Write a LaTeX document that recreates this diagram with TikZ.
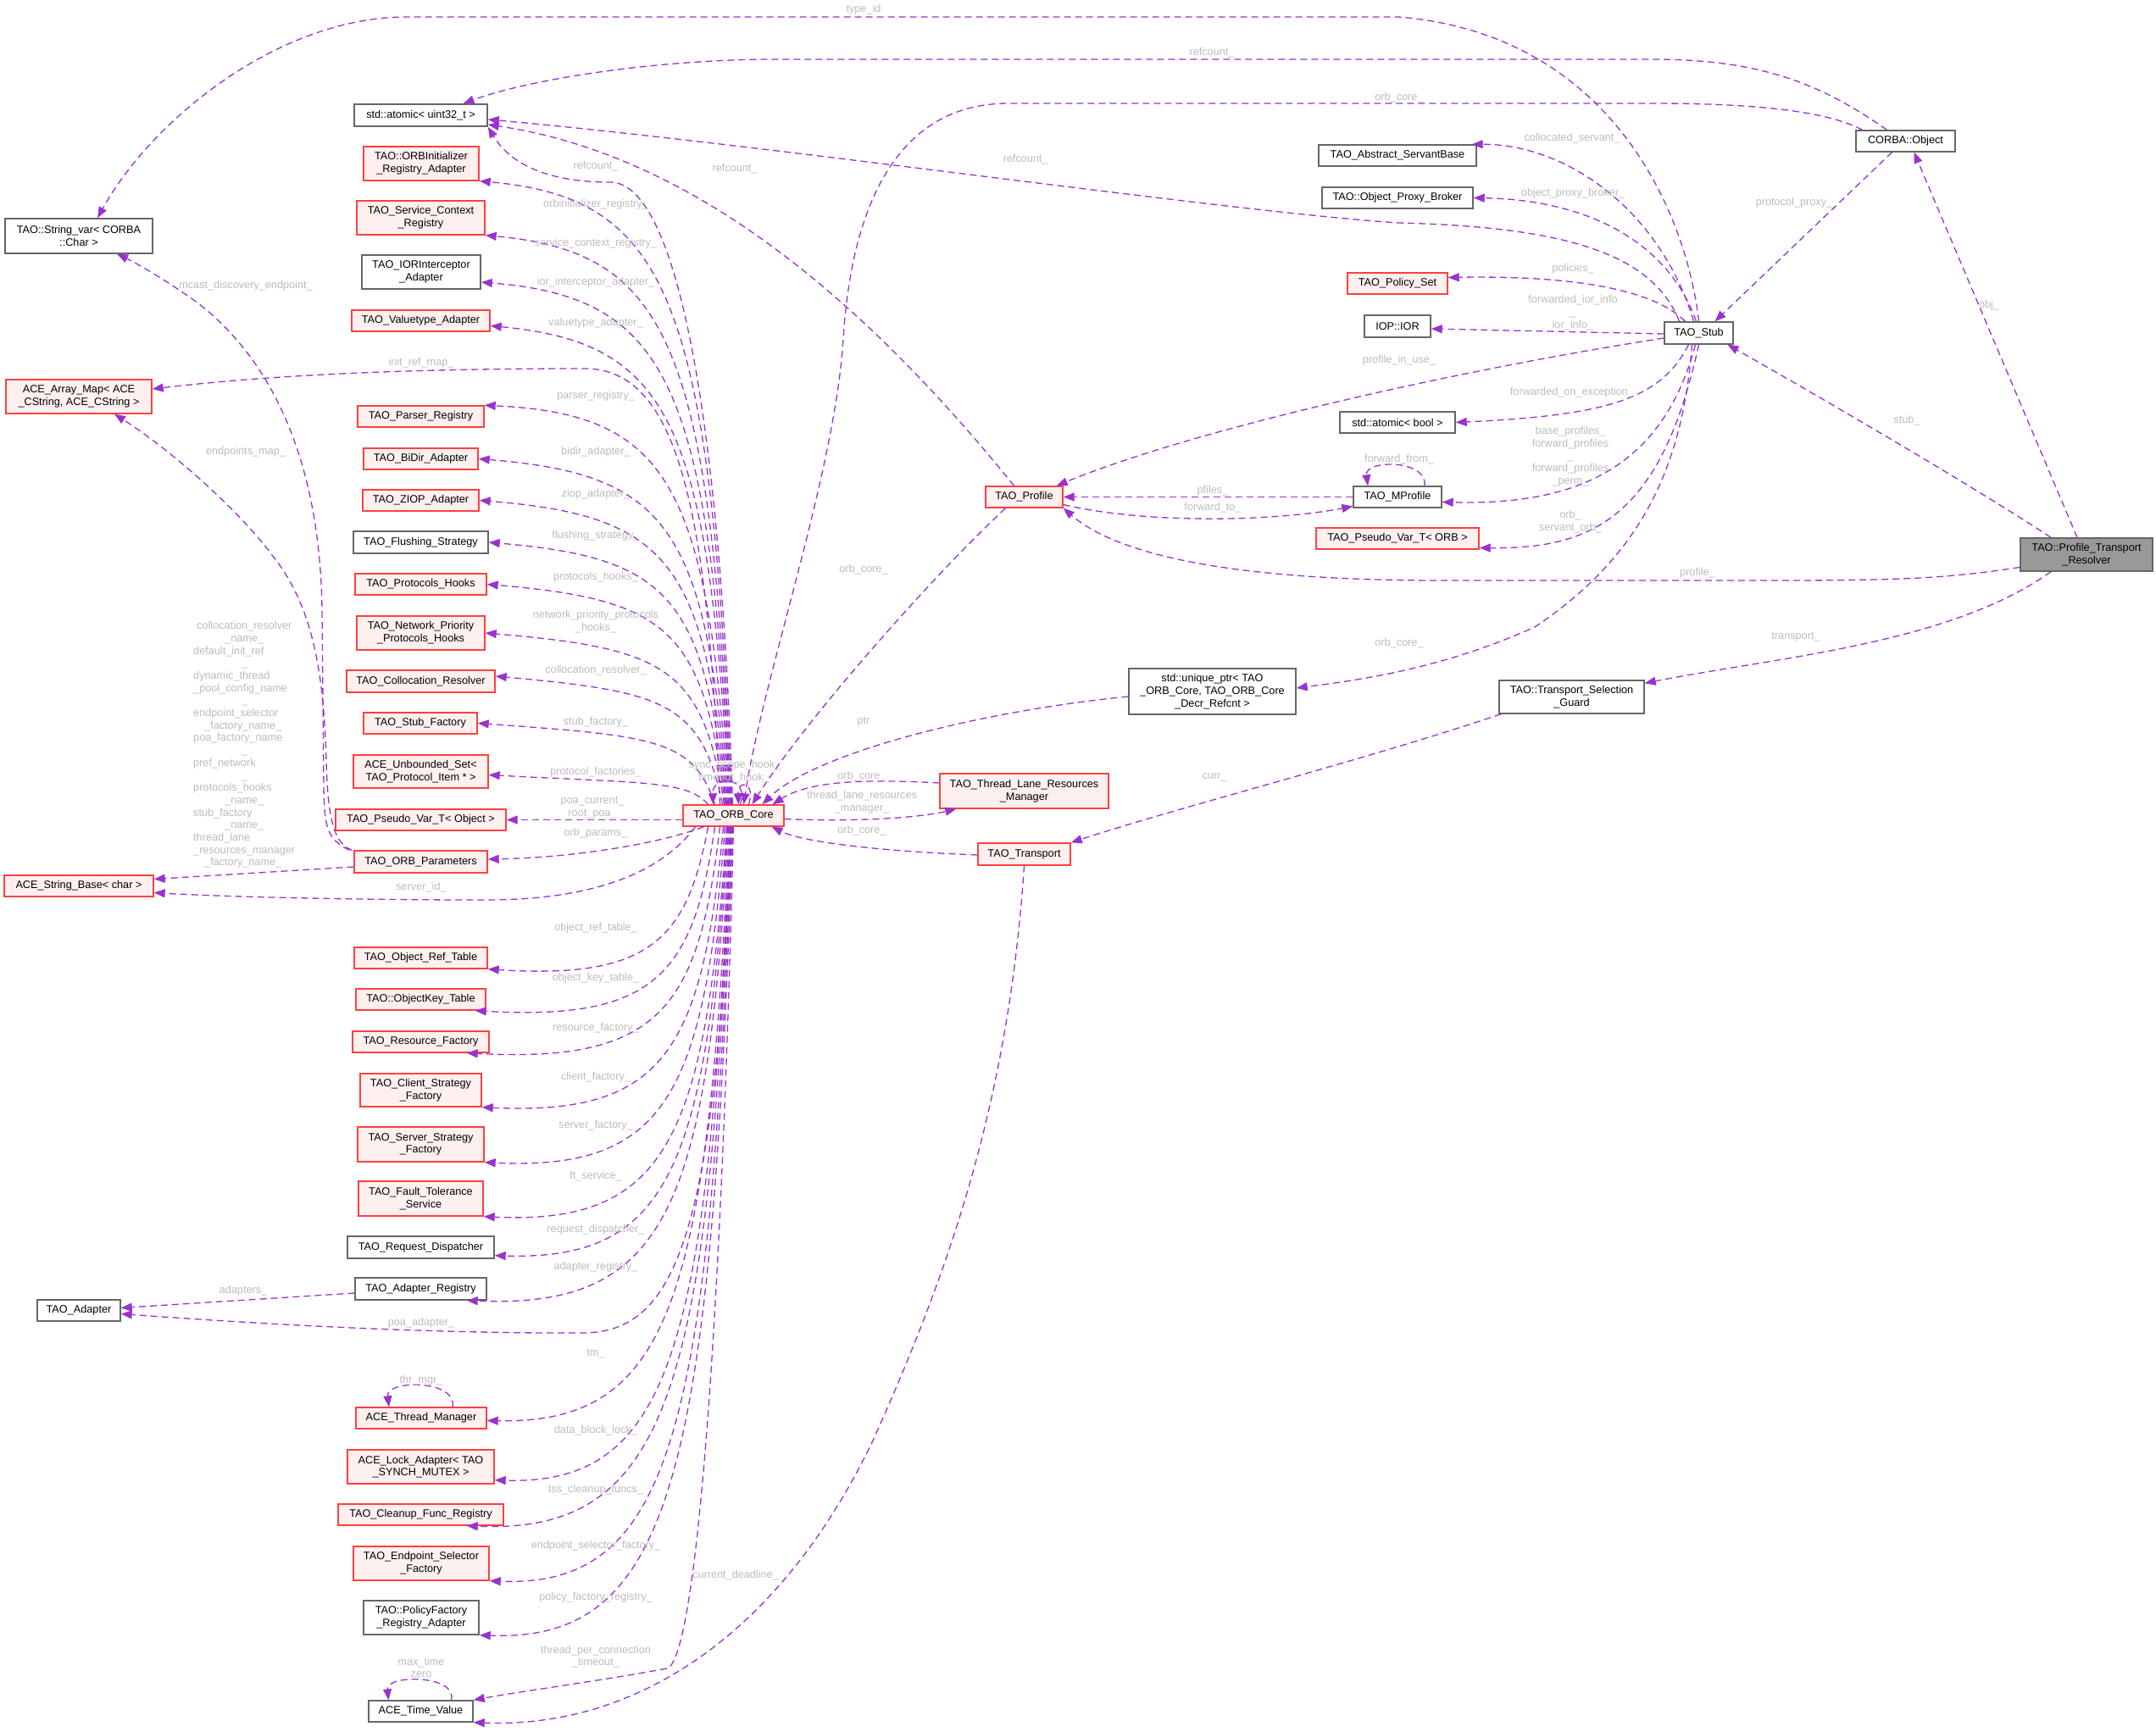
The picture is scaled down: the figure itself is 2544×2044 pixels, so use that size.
\documentclass[tikz,border=0pt]{standalone}
\usepackage{fontspec}
\setmainfont{Liberation Sans}
\usetikzlibrary{arrows.meta,calc}
\definecolor{edgec}{HTML}{9A32CD}
\definecolor{boxred}{HTML}{FF4040}
\definecolor{boxpink}{HTML}{FFF0F0}
\definecolor{boxgray}{HTML}{666666}
\definecolor{maingray}{HTML}{999999}
\definecolor{lblc}{HTML}{BBBBBB}
\newcommand\nf{\fontsize{12.7}{14.7}\selectfont}
\newcommand\fanedge[3]{\draw[conn] let \p1=(#1), \p2=(#2) in (\p1) .. controls (\x1-25pt,{0.8*(\y2)+0.2*(\y1)}) and (\x1-70pt,\y2-#3) .. (\p2);}
\begin{document}
\begin{tikzpicture}[x=1pt,y=-1pt,
  gbox/.style={draw=boxgray,fill=white,line width=1.4pt,inner sep=1pt,align=center,font=\nf},
  rbox/.style={draw=boxred,fill=boxpink,line width=1.4pt,inner sep=1pt,align=center,font=\nf},
  mbox/.style={draw=boxgray,fill=maingray,line width=1.4pt,inner sep=1pt,align=center,font=\nf},
  conn/.style={draw=edgec,line width=1.3pt,dash pattern=on 8pt off 5pt,-{Triangle[length=13pt,width=10pt]}},
  lbl/.style={text=lblc,font=\nf,inner sep=0pt,align=center}]
\useasboundingbox (0,0) rectangle (2544,2044);
% ---------------- nodes ----------------
\node[gbox,minimum width=174pt,minimum height=41pt] (strvar) at (93,278.5) {TAO::String\_var< CORBA\\::Char >};
\node[rbox,minimum width=172pt,minimum height=40pt] (arraymap) at (93,468) {ACE\_Array\_Map< ACE\\\_CString, ACE\_CString >};
\node[rbox,minimum width=176pt,minimum height=25pt] (strbase) at (93,1045.5) {ACE\_String\_Base< char >};
\node[gbox,minimum width=98pt,minimum height=25pt] (adapter) at (93,1546.5) {TAO\_Adapter};
\node[gbox,minimum width=157pt,minimum height=26pt] (atomic) at (496.5,136) {std::atomic< uint32\_t >};
\node[rbox,minimum width=136pt,minimum height=40pt] (orbinit) at (497,193) {TAO::ORBInitializer\\\_Registry\_Adapter};
\node[rbox,minimum width=151pt,minimum height=40pt] (scr) at (496.5,257) {TAO\_Service\_Context\\\_Registry};
\node[gbox,minimum width=140pt,minimum height=40pt] (iori) at (497,321) {TAO\_IORInterceptor\\\_Adapter};
\node[rbox,minimum width=163pt,minimum height=25pt] (valt) at (496.5,378.5) {TAO\_Valuetype\_Adapter};
\node[rbox,minimum width=149pt,minimum height=25pt] (parser) at (496.5,491.5) {TAO\_Parser\_Registry};
\node[rbox,minimum width=135pt,minimum height=25pt] (bidir) at (496.5,541.5) {TAO\_BiDir\_Adapter};
\node[rbox,minimum width=137pt,minimum height=25pt] (ziop) at (496.5,590.5) {TAO\_ZIOP\_Adapter};
\node[gbox,minimum width=159pt,minimum height=26pt] (flush) at (496.5,640) {TAO\_Flushing\_Strategy};
\node[rbox,minimum width=155pt,minimum height=25pt] (phooks) at (496.5,689.5) {TAO\_Protocols\_Hooks};
\node[rbox,minimum width=151pt,minimum height=40pt] (nphooks) at (496.5,747) {TAO\_Network\_Priority\\\_Protocols\_Hooks};
\node[rbox,minimum width=175pt,minimum height=26pt] (collres) at (496.5,804) {TAO\_Collocation\_Resolver};
\node[rbox,minimum width=134pt,minimum height=25pt] (stubf) at (496,853.5) {TAO\_Stub\_Factory};
\node[rbox,minimum width=159pt,minimum height=39pt] (unbset) at (496.5,910.5) {ACE\_Unbounded\_Set<\\TAO\_Protocol\_Item * >};
\node[rbox,minimum width=201pt,minimum height=25pt] (pvobj) at (496.5,967.5) {TAO\_Pseudo\_Var\_T< Object >};
\node[rbox,minimum width=157pt,minimum height=26pt] (orbparams) at (496.5,1017) {TAO\_ORB\_Parameters};
\node[rbox,minimum width=157pt,minimum height=25pt] (ortable) at (496.5,1130.5) {TAO\_Object\_Ref\_Table};
\node[rbox,minimum width=153pt,minimum height=25pt] (oktable) at (496.5,1179.5) {TAO::ObjectKey\_Table};
\node[rbox,minimum width=161pt,minimum height=25pt] (resf) at (496.5,1229.5) {TAO\_Resource\_Factory};
\node[rbox,minimum width=143pt,minimum height=39pt] (clientf) at (496.5,1286.5) {TAO\_Client\_Strategy\\\_Factory};
\node[rbox,minimum width=149pt,minimum height=41pt] (serverf) at (496.5,1350.5) {TAO\_Server\_Strategy\\\_Factory};
\node[rbox,minimum width=147pt,minimum height=41pt] (ftserv) at (496.5,1414.5) {TAO\_Fault\_Tolerance\\\_Service};
\node[gbox,minimum width=173pt,minimum height=26pt] (reqd) at (496.5,1472) {TAO\_Request\_Dispatcher};
\node[gbox,minimum width=155pt,minimum height=26pt] (adreg) at (496.5,1521) {TAO\_Adapter\_Registry};
\node[rbox,minimum width=154pt,minimum height=25pt] (thrmgr) at (497,1673.5) {ACE\_Thread\_Manager};
\node[rbox,minimum width=173pt,minimum height=40pt] (lockad) at (496.5,1731) {ACE\_Lock\_Adapter< TAO\\\_SYNCH\_MUTEX >};
\node[rbox,minimum width=195pt,minimum height=25pt] (cleanup) at (496.5,1787.5) {TAO\_Cleanup\_Func\_Registry};
\node[rbox,minimum width=160pt,minimum height=40pt] (epsel) at (497,1845) {TAO\_Endpoint\_Selector\\\_Factory};
\node[gbox,minimum width=136pt,minimum height=40pt] (polfac) at (497,1909) {TAO::PolicyFactory\\\_Registry\_Adapter};
\node[gbox,minimum width=123pt,minimum height=25pt] (timev) at (496.5,2019.5) {ACE\_Time\_Value};
\node[rbox,minimum width=119pt,minimum height=25pt] (orbcore) at (865.5,962.5) {TAO\_ORB\_Core};
\node[rbox,minimum width=91pt,minimum height=25pt] (profile) at (1208.5,586.5) {TAO\_Profile};
\node[rbox,minimum width=199pt,minimum height=41pt] (tlrm) at (1208.5,933.5) {TAO\_Thread\_Lane\_Resources\\\_Manager};
\node[rbox,minimum width=109pt,minimum height=26pt] (transport) at (1208.5,1008) {TAO\_Transport};
\node[gbox,minimum width=197pt,minimum height=54pt] (uptr) at (1430.5,816) {std::unique\_ptr< TAO\\\_ORB\_Core, TAO\_ORB\_Core\\\_Decr\_Refcnt >};
\node[gbox,minimum width=186pt,minimum height=25pt] (servbase) at (1649,183.5) {TAO\_Abstract\_ServantBase};
\node[gbox,minimum width=178pt,minimum height=25pt] (opb) at (1649,233.5) {TAO::Object\_Proxy\_Broker};
\node[rbox,minimum width=118pt,minimum height=25pt] (polset) at (1649,334.5) {TAO\_Policy\_Set};
\node[gbox,minimum width=78pt,minimum height=26pt] (ior) at (1649,385) {IOP::IOR};
\node[gbox,minimum width=136pt,minimum height=25pt] (atbool) at (1649,498.5) {std::atomic< bool >};
\node[gbox,minimum width=104pt,minimum height=25pt] (mprof) at (1649,586.5) {TAO\_MProfile};
\node[rbox,minimum width=192pt,minimum height=25pt] (pvorb) at (1649,635.5) {TAO\_Pseudo\_Var\_T< ORB >};
\node[gbox,minimum width=81pt,minimum height=26pt] (stub) at (2004.5,393) {TAO\_Stub};
\node[gbox,minimum width=117pt,minimum height=25pt] (corba) at (2248.5,166.5) {CORBA::Object};
\node[mbox,minimum width=156pt,minimum height=39pt] (ptr) at (2462,654.5) {TAO::Profile\_Transport\\\_Resolver};
\node[gbox,minimum width=171pt,minimum height=39pt] (guard) at (1854.5,822.5) {TAO::Transport\_Selection\\\_Guard};
% ---------------- edges: Profile_Transport_Resolver ----------------
\draw[conn] ([xshift=-11pt]ptr.north) -- ([xshift=10pt]corba.south);
\draw[conn] ([xshift=-42pt]ptr.north) .. controls (2330,575) and (2150,470) .. ([xshift=34pt]stub.south);
\draw[conn] ([yshift=-15pt]ptr.west) .. controls (2300,682) and (2250,685) .. (2100,685) -- (1700,685) .. controls (1500,685) and (1330,665) .. (profile.south east);
\draw[conn] ([xshift=-42pt]ptr.south) .. controls (2300,760) and (2100,775) .. ([yshift=-4pt]guard.north east);
% CORBA::Object
\draw[conn] ([xshift=-16pt]corba.south) -- ([xshift=19pt]stub.north);
\draw[conn] ([xshift=-22pt]corba.north) .. controls (2150,100) and (2080,70) .. (1950,70) -- (900,70) .. controls (760,72) and (620,95) .. ([xshift=50pt]atomic.north);
\draw[conn] ([xshift=-51pt]corba.north) .. controls (2150,128) and (2050,122) .. (1950,122) -- (1190,122) .. controls (1060,122) and (1005,240) .. (995,400) .. controls (985,560) and (900,800) .. ([xshift=12pt]orbcore.north);
% TAO_Stub
\draw[conn] (stub.north) .. controls (1990,250) and (1900,40) .. (1650,20) -- (480,20) .. controls (330,20) and (180,140) .. ([xshift=22pt]strvar.north);
\draw[conn] ([xshift=-23pt]stub.north) .. controls (1950,300) and (1850,268) .. (1650,263) .. controls (1450,250) and (900,170) .. ([yshift=-5pt]atomic.east);
\draw[conn] ([xshift=-6pt]stub.north) .. controls (1960,250) and (1850,170) .. ([xshift=-6pt]servbase.north east);
\draw[conn] ([xshift=-3pt]stub.north) .. controls (1970,290) and (1880,236) .. (opb.east);
\draw[conn] ([xshift=-16pt]stub.north) .. controls (1950,340) and (1850,325) .. ([yshift=7pt]polset.east);
\draw[conn] ([yshift=-1pt]stub.west) -- ([yshift=-3pt]ior.east);
\draw[conn] ([yshift=-6pt]stub.west) .. controls (1700,440) and (1400,510) .. ([xshift=-8pt]profile.north east);
\draw[conn] ([xshift=-12pt]stub.south) .. controls (1960,470) and (1900,490) .. (atbool.east);
\draw[conn] ([xshift=-4pt]stub.south) .. controls (1960,560) and (1850,596) .. ([yshift=-6pt]mprof.east);
\draw[conn] (stub.south) .. controls (1960,610) and (1880,648) .. ([yshift=-11pt]pvorb.east);
\draw[conn] ([xshift=-8pt]stub.south) .. controls (1985,560) and (1930,660) .. (1811,740) .. controls (1700,790) and (1600,803) .. ([yshift=4pt]uptr.east);
% MProfile / Profile
\draw[conn] (mprof.west) -- (profile.east);
\draw[conn] ([xshift=32pt]mprof.north) .. controls (1685,542) and (1610,542) .. ([xshift=-35pt]mprof.north);
\draw[conn] ([yshift=-9pt]profile.east) .. controls (1350,618) and (1500,616) .. ([yshift=-11pt]mprof.west);
\draw[conn] ([xshift=-12pt]profile.north) .. controls (1000,330) and (800,180) .. ([yshift=-11pt]atomic.east);
\draw[conn] ([xshift=-22pt]profile.south) .. controls (1100,680) and (950,850) .. ([xshift=22pt]orbcore.north);
% unique_ptr, thread lane, transport, guard
\draw[conn] ([yshift=-6pt]uptr.west) .. controls (1150,840) and (960,890) .. ([xshift=34pt]orbcore.north);
\draw[conn] ([yshift=9.5pt]tlrm.west) .. controls (1000,918) and (950,925) .. ([xshift=46pt]orbcore.north);
\draw[conn] ([yshift=-4pt]orbcore.east) .. controls (1000,970) and (1080,966) .. ([xshift=20pt]tlrm.south west);
\draw[conn] ([yshift=-1pt]transport.west) .. controls (1050,1005) and (950,995) .. ([xshift=45pt]orbcore.south);
\draw[conn] ([xshift=3pt]guard.south west) .. controls (1600,900) and (1400,950) .. (transport.north east);
\draw[conn] (transport.south) .. controls (1190,1300) and (1120,1500) .. (1030,1700) .. controls (920,1930) and (750,2040) .. (timev.south east);
% ORB_Core fan (upper)
\draw[conn] ([xshift=-1pt]orbcore.north) .. controls (850,500) and (800,215) .. (720,215) .. controls (640,215) and (600,190) .. (atomic.south east);
\fanedge{[xshift=-2pt]orbcore.north}{orbinit.south east}{20pt}
\fanedge{[xshift=-3pt]orbcore.north}{scr.south east}{20pt}
\fanedge{[xshift=-4pt]orbcore.north}{[yshift=-12pt]iori.east}{18pt}
\fanedge{[xshift=-5pt]orbcore.north}{[yshift=-6pt]valt.east}{20pt}
\draw[conn] ([xshift=-16pt]orbcore.north) .. controls (835,600) and (800,435) .. (690,435) .. controls (450,435) and (300,445) .. ([yshift=9pt]arraymap.east);
\fanedge{[xshift=-6pt]orbcore.north}{parser.north east}{10pt}
\fanedge{[xshift=-7pt]orbcore.north}{bidir.east}{18pt}
\fanedge{[xshift=-8pt]orbcore.north}{ziop.east}{18pt}
\fanedge{[xshift=-9pt]orbcore.north}{flush.east}{18pt}
\fanedge{[xshift=-10pt]orbcore.north}{phooks.east}{18pt}
\fanedge{[xshift=-11pt]orbcore.north}{nphooks.east}{18pt}
\fanedge{[xshift=-13pt]orbcore.north}{[yshift=6pt]collres.east}{18pt}
\fanedge{[xshift=-22pt]orbcore.north}{stubf.east}{15pt}
\fanedge{[xshift=-30pt]orbcore.north}{[yshift=-4pt]unbset.east}{10pt}
\draw[conn] ([yshift=-5pt]orbcore.west) -- (pvobj.east);
\draw[conn] ([xshift=-35pt]orbcore.south) .. controls (780,995) and (680,1012) .. ([yshift=3pt]orbparams.east);
\draw[conn] ([xshift=-45pt]orbcore.south) .. controls (780,1030) and (700,1062) .. (574,1062) .. controls (400,1062) and (260,1058) .. ([yshift=-8pt]strbase.east);
% ORB_Core fan (lower)
\fanedge{[xshift=-30pt]orbcore.south}{ortable.south east}{12pt}
\fanedge{[xshift=-22pt]orbcore.south}{[xshift=-13pt]oktable.south east}{12pt}
\fanedge{[xshift=-16pt]orbcore.south}{[xshift=-27pt]resf.south east}{12pt}
\fanedge{[xshift=-12pt]orbcore.south}{clientf.south east}{10pt}
\fanedge{[xshift=-10pt]orbcore.south}{serverf.south east}{10pt}
\fanedge{[xshift=-8pt]orbcore.south}{ftserv.south east}{10pt}
\fanedge{[xshift=-7pt]orbcore.south}{[yshift=4pt]reqd.south east}{6pt}
\fanedge{[xshift=-6pt]orbcore.south}{[xshift=-24pt]adreg.south east}{10pt}
\draw[conn] ([xshift=-3pt]orbcore.south) .. controls (845,1450) and (800,1572) .. (689,1573) .. controls (500,1574) and (300,1562) .. ([yshift=-4pt]adapter.east);
\fanedge{[xshift=-5pt]orbcore.south}{[yshift=-3pt]thrmgr.east}{4pt}
\fanedge{[xshift=-4pt]orbcore.south}{[yshift=5pt]lockad.south east}{6pt}
\fanedge{[xshift=-3pt]orbcore.south}{[xshift=-44pt]cleanup.south east}{10pt}
\fanedge{[xshift=-2pt]orbcore.south}{epsel.south east}{8pt}
\fanedge{[xshift=-1pt]orbcore.south}{polfac.south east}{8pt}
\draw[conn] (orbcore.south) .. controls (850,1600) and (820,1960) .. (787,1969) .. controls (700,1985) and (620,1995) .. (timev.north east);
% ORB_Core self loops
\draw[conn] ([xshift=8pt]orbcore.north) .. controls (885,915) and (840,915) .. ([xshift=-24pt]orbcore.north);
\draw[conn] ([xshift=18pt]orbcore.north) .. controls (892,922) and (870,920) .. ([xshift=6pt]orbcore.north);
% ORB_Parameters
\draw[conn] ([yshift=-6pt]orbparams.west) -- ([yshift=8pt]strbase.east);
\draw[conn] ([xshift=-5pt]orbparams.north west) .. controls (385,990) and (383,975) .. (382,930) -- (380,720) .. controls (378,560) and (330,430) .. (230,355) .. controls (190,327) and (160,310) .. ([xshift=45pt]strvar.south);
\draw[conn] ([xshift=-2pt]orbparams.north west) .. controls (392,995) and (387,960) .. (385,900) .. controls (382,780) and (365,710) .. (321,655) .. controls (280,600) and (200,530) .. ([xshift=42pt]arraymap.south);
% Adapter registry
\draw[conn] ([yshift=-5pt]adreg.west) -- ([yshift=3pt]adapter.east);
% self loops
\draw[conn] ([xshift=37pt]thrmgr.north) .. controls (540,1628) and (455,1628) .. ([xshift=-38pt]thrmgr.north);
\draw[conn] ([xshift=36pt]timev.north) .. controls (540,1976) and (455,1976) .. ([xshift=-38pt]timev.north);
% ---------------- labels ----------------
\node[lbl] (la1) at (1019,11) {type\_id};
\node[lbl] (la2) at (1430,62) {refcount\_};
\node[lbl] (la3) at (1651,115) {orb\_core\_};
\node[lbl] (la4) at (1210,188) {refcount\_};
\node[lbl] (la5) at (867,199) {refcount\_};
\node[lbl] (la6) at (703,196) {refcount\_};
\node[lbl] (la7) at (703,241) {orbinitializer\_registry\_};
\node[lbl] (la8) at (703,287) {service\_context\_registry\_};
\node[lbl] (la9) at (703,333) {ior\_interceptor\_adapter\_};
\node[lbl] (la10) at (703,381) {valuetype\_adapter\_};
\node[lbl] (la11) at (497,428) {init\_ref\_map\_};
\node[lbl] (la12) at (703,467) {parser\_registry\_};
\node[lbl] (la13) at (703,533) {bidir\_adapter\_};
\node[lbl] (la14) at (703,583) {ziop\_adapter\_};
\node[lbl] (la15) at (703,632) {flushing\_strategy\_};
\node[lbl] (la16) at (703,681) {protocols\_hooks\_};
\node[lbl] (la17) at (703,734) {network\_priority\_protocols\\\_hooks\_};
\node[lbl] (la18) at (703,791) {collocation\_resolver\_};
\node[lbl] (la19) at (703,852) {stub\_factory\_};
\node[lbl] (la20) at (703,911) {protocol\_factories\_};
\node[lbl] (la21) at (699,953) {poa\_current\_\\root\_poa\_};
\node[lbl] (la22) at (703,983) {orb\_params\_};
\node[lbl] (la23) at (497,1047) {server\_id\_};
\node[lbl] (la24) at (703,1095) {object\_ref\_table\_};
\node[lbl] (la25) at (703,1154) {object\_key\_table\_};
\node[lbl] (la26) at (703,1213) {resource\_factory\_};
\node[lbl] (la27) at (703,1271) {client\_factory\_};
\node[lbl] (la28) at (703,1328) {server\_factory\_};
\node[lbl] (la29) at (703,1388) {ft\_service\_};
\node[lbl] (la30) at (703,1451) {request\_dispatcher\_};
\node[lbl] (la31) at (703,1495) {adapter\_registry\_};
\node[lbl] (la32) at (287,1523) {adapters\_};
\node[lbl] (la33) at (497,1561) {poa\_adapter\_};
\node[lbl] (la34) at (703,1598) {tm\_};
\node[lbl] (la35) at (497,1629) {thr\_mgr\_};
\node[lbl] (la36) at (703,1688) {data\_block\_lock\_};
\node[lbl] (la37) at (703,1758) {tss\_cleanup\_funcs\_};
\node[lbl] (la38) at (703,1824) {endpoint\_selector\_factory\_};
\node[lbl] (la39) at (703,1885) {policy\_factory\_registry\_};
\node[lbl] (la40) at (703,1955) {thread\_per\_connection\\\_timeout\_};
\node[lbl] (la41) at (497,1968) {max\_time\\zero};
\node[lbl] (la42) at (868,1859) {current\_deadline\_};
\node[lbl] (la43) at (290,337) {mcast\_discovery\_endpoint\_};
\node[lbl] (la44) at (290,533) {endpoints\_map\_};
\node[lbl,align=left,anchor=west] (la45) at (228,879) {\hspace*{4pt}collocation\_resolver\\\hspace*{37pt}\_name\_\\default\_init\_ref\\\hspace*{57pt}\_\\dynamic\_thread\\\_pool\_config\_name\\\hspace*{57pt}\_\\endpoint\_selector\\\hspace*{13pt}\_factory\_name\_\\poa\_factory\_name\\\hspace*{57pt}\_\\pref\_network\\\hspace*{57pt}\_\\protocols\_hooks\\\hspace*{37pt}\_name\_\\stub\_factory\\\hspace*{37pt}\_name\_\\thread\_lane\\\_resources\_manager\\\hspace*{13pt}\_factory\_name\_};
\node[lbl] (la46) at (867,903) {sync\_scope\_hook\_};
\node[lbl] (la47) at (866,918) {timeout\_hook\_};
\node[lbl] (la48) at (1017,916) {orb\_core\_};
\node[lbl] (la49) at (1017,947) {thread\_lane\_resources\\\_manager\_};
\node[lbl] (la50) at (1017,980) {orb\_core\_};
\node[lbl] (la51) at (1019,852) {ptr};
\node[lbl] (la52) at (1019,672) {orb\_core\_};
\node[lbl] (la53) at (1433,917) {curr\_};
\node[lbl] (la54) at (1651,759) {orb\_core\_};
\node[lbl] (la55) at (1651,425) {profile\_in\_use\_};
\node[lbl] (la56) at (1855,163) {collocated\_servant\_};
\node[lbl] (la57) at (1856,228) {object\_proxy\_broker\_};
\node[lbl] (la58) at (1856,317) {policies\_};
\node[lbl] (la59) at (1856,369) {forwarded\_ior\_info\\\_\\ior\_info\_};
\node[lbl] (la60) at (1855,463) {forwarded\_on\_exception\_};
\node[lbl] (la61) at (1853,539) {base\_profiles\_\\forward\_profiles\\\_\\forward\_profiles\\\_perm\_};
\node[lbl] (la62) at (1853,616) {orb\_\\servant\_orb\_};
\node[lbl] (la63) at (1651,542) {forward\_from\_};
\node[lbl] (la64) at (1431,579) {pfiles\_};
\node[lbl] (la65) at (1431,599) {forward\_to\_};
\node[lbl] (la66) at (2117,239) {protocol\_proxy\_};
\node[lbl] (la67) at (2347,360) {obj\_};
\node[lbl] (la68) at (2250,496) {stub\_};
\node[lbl] (la69) at (2003,676) {profile\_};
\node[lbl] (la70) at (2119,752) {transport\_};
\end{tikzpicture}
\end{document}
